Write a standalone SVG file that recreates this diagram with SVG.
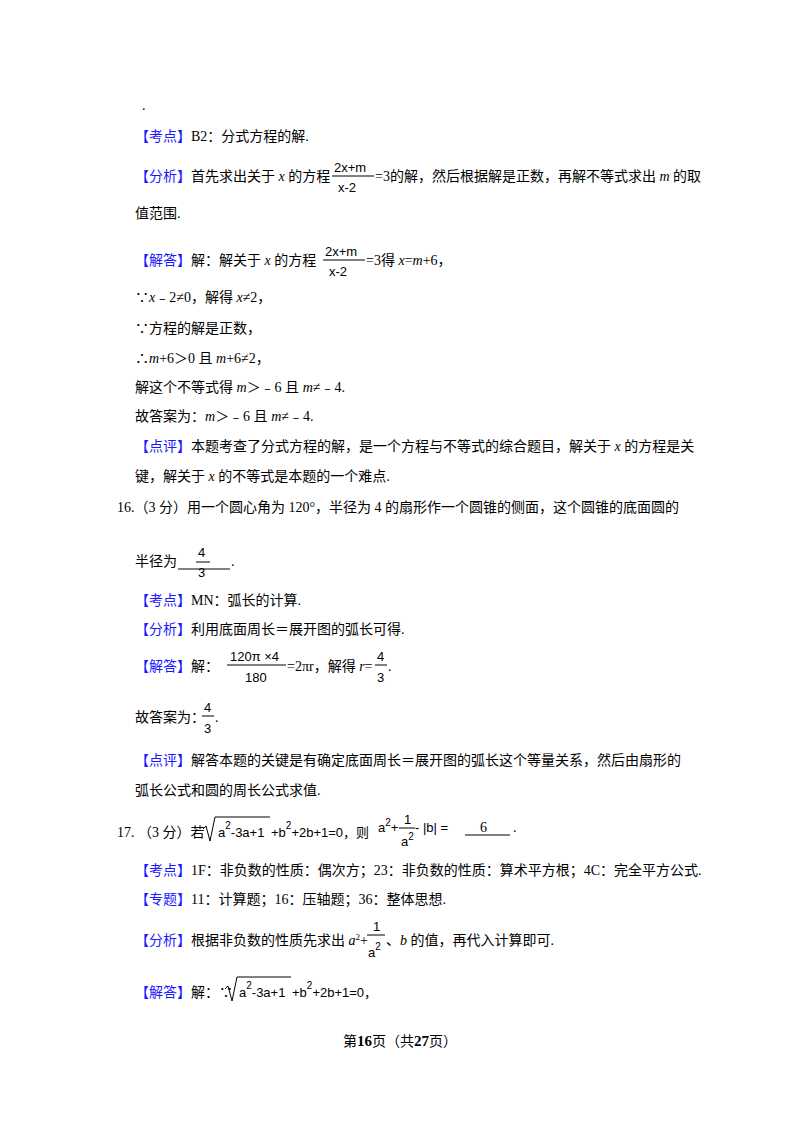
<svg xmlns="http://www.w3.org/2000/svg" width="800" height="1132" viewBox="0 0 800 1132">
<style>
text{font-family:"Liberation Serif","Noto Sans CJK SC",serif;font-size:14px;fill:#000}
.b{fill:#1a1aff}
.s{font-family:"Liberation Sans","Noto Sans CJK SC",sans-serif;font-size:13px}
.i{font-style:italic}
line{stroke:#000;stroke-width:1}
</style>
<rect width="800" height="1132" fill="#fff"/>
<text x="142" y="110">.</text>
<text x="135" y="141"><tspan class="b">【考点】</tspan>B2：分式方程的解.</text>
<g id="l1">
<text x="135" y="181"><tspan class="b">【分析】</tspan>首先求出关于 <tspan class="i">x</tspan> 的方程</text>
<text class="s" x="334" y="172">2x+m</text><line x1="332" y1="176" x2="374" y2="176"/><text class="s" x="338" y="192">x-2</text>
<text x="375" y="181">=3的解，然后根据解是正数，再解不等式求出 <tspan class="i">m</tspan> 的取</text>
</g>
<text x="135" y="218">值范围.</text>
<g id="l2">
<text x="135" y="265"><tspan class="b">【解答】</tspan>解：解关于 <tspan class="i">x</tspan> 的方程</text>
<text class="s" x="325" y="256">2x+m</text><line x1="323" y1="260" x2="365" y2="260"/><text class="s" x="329" y="276">x-2</text>
<text x="366" y="265">=3得 <tspan class="i">x</tspan>=<tspan class="i">m</tspan>+6，</text>
</g>
<text x="135" y="302">∵<tspan class="i">x</tspan>﹣2≠0，解得 <tspan class="i">x</tspan>≠2，</text>
<text x="135" y="333">∵方程的解是正数，</text>
<text x="135" y="363">∴<tspan class="i">m</tspan>+6＞0 且 <tspan class="i">m</tspan>+6≠2，</text>
<text x="135" y="392">解这个不等式得 <tspan class="i">m</tspan>＞﹣6 且 <tspan class="i">m</tspan>≠﹣4.</text>
<text x="135" y="421">故答案为：<tspan class="i">m</tspan>＞﹣6 且 <tspan class="i">m</tspan>≠﹣4.</text>
<text x="135" y="451"><tspan class="b">【点评】</tspan>本题考查了分式方程的解，是一个方程与不等式的综合题目，解关于 <tspan class="i">x</tspan> 的方程是关</text>
<text x="135" y="481">键，解关于 <tspan class="i">x</tspan> 的不等式是本题的一个难点.</text>
<text x="117" y="512">16.（3 分）用一个圆心角为 120°，半径为 4 的扇形作一个圆锥的侧面，这个圆锥的底面圆的</text>
<g id="l3">
<text x="135" y="566">半径为</text><line x1="178" y1="569" x2="230" y2="569"/>
<text class="s" x="198" y="557" font-size="15">4</text><line x1="196" y1="562" x2="210" y2="562"/><text class="s" x="198" y="577" font-size="15">3</text>
<text x="231" y="566">.</text>
</g>
<text x="135" y="605"><tspan class="b">【考点】</tspan>MN：弧长的计算.</text>
<text x="135" y="634"><tspan class="b">【分析】</tspan>利用底面周长＝展开图的弧长可得.</text>
<g id="l4">
<text x="135" y="671"><tspan class="b">【解答】</tspan>解：</text>
<text class="s" x="230" y="661" font-size="14">120π ×4</text><line x1="227" y1="665" x2="286" y2="665"/><text class="s" x="245" y="682" font-size="14">180</text>
<text x="287" y="671">=2πr，解得 <tspan class="i">r</tspan>=</text>
<text class="s" x="377" y="661">4</text><line x1="375" y1="665" x2="387" y2="665"/><text class="s" x="377" y="682">3</text>
<text x="388" y="671">.</text>
</g>
<g id="l5">
<text x="135" y="722">故答案为：</text>
<text class="s" x="204" y="712">4</text><line x1="202" y1="716" x2="214" y2="716"/><text class="s" x="204" y="733">3</text>
<text x="215" y="722">.</text>
</g>
<text x="135" y="765"><tspan class="b">【点评】</tspan>解答本题的关键是有确定底面周长＝展开图的弧长这个等量关系，然后由扇形的</text>
<text x="135" y="795">弧长公式和圆的周长公式求值.</text>
<g id="l6">
<text x="117" y="837">17. （3 分）若</text>
<path d="M203 829 L206 826 L210 841 L215 817 L270 817" fill="none" stroke="#000"/>
<text class="s" x="218" y="837">a<tspan dy="-8" font-size="10">2</tspan><tspan dy="8">-3a+1</tspan></text>
<text class="s" x="271" y="837">+b<tspan dy="-8" font-size="10">2</tspan><tspan dy="8">+2b+1=0，则</tspan></text>
<text class="s" x="378" y="832">a<tspan dy="-6" font-size="10">2</tspan><tspan dy="6">+</tspan></text>
<text class="s" x="404" y="824">1</text><line x1="399" y1="828" x2="415" y2="828"/><text class="s" x="401" y="846">a<tspan dy="-6" font-size="10">2</tspan></text>
<text class="s" x="415" y="832">- |b| =</text>
<line x1="465" y1="835" x2="510" y2="835"/><text x="480" y="832">6</text>
<text x="513" y="832">.</text>
</g>
<text x="135" y="875"><tspan class="b">【考点】</tspan>1F：非负数的性质：偶次方；23：非负数的性质：算术平方根；4C：完全平方公式.</text>
<text x="135" y="904"><tspan class="b">【专题】</tspan>11：计算题；16：压轴题；36：整体思想.</text>
<g id="l7">
<text x="135" y="945"><tspan class="b">【分析】</tspan>根据非负数的性质先求出 <tspan class="i">a</tspan><tspan dy="-5" font-size="9">2</tspan><tspan dy="5">+</tspan></text>
<text class="s" x="373" y="931">1</text><line x1="367" y1="935" x2="385" y2="935"/><text class="s" x="368" y="957">a<tspan dy="-7" font-size="10">2</tspan></text>
<text x="386" y="945">、<tspan class="i">b</tspan> 的值，再代入计算即可.</text>
</g>
<g id="l8">
<text x="135" y="997"><tspan class="b">【解答】</tspan>解：∵</text>
<path d="M225 989 L228 986 L232 1001 L237 977 L291 977" fill="none" stroke="#000"/>
<text class="s" x="239" y="997">a<tspan dy="-8" font-size="10">2</tspan><tspan dy="8">-3a+1</tspan></text>
<text class="s" x="292" y="997">+b<tspan dy="-8" font-size="10">2</tspan><tspan dy="8">+2b+1=0，</tspan></text>
</g>
<text x="400" y="1046" text-anchor="middle" font-size="13">第<tspan font-weight="bold" font-size="15">16</tspan>页（共<tspan font-weight="bold" font-size="15">27</tspan>页）</text>
</svg>
